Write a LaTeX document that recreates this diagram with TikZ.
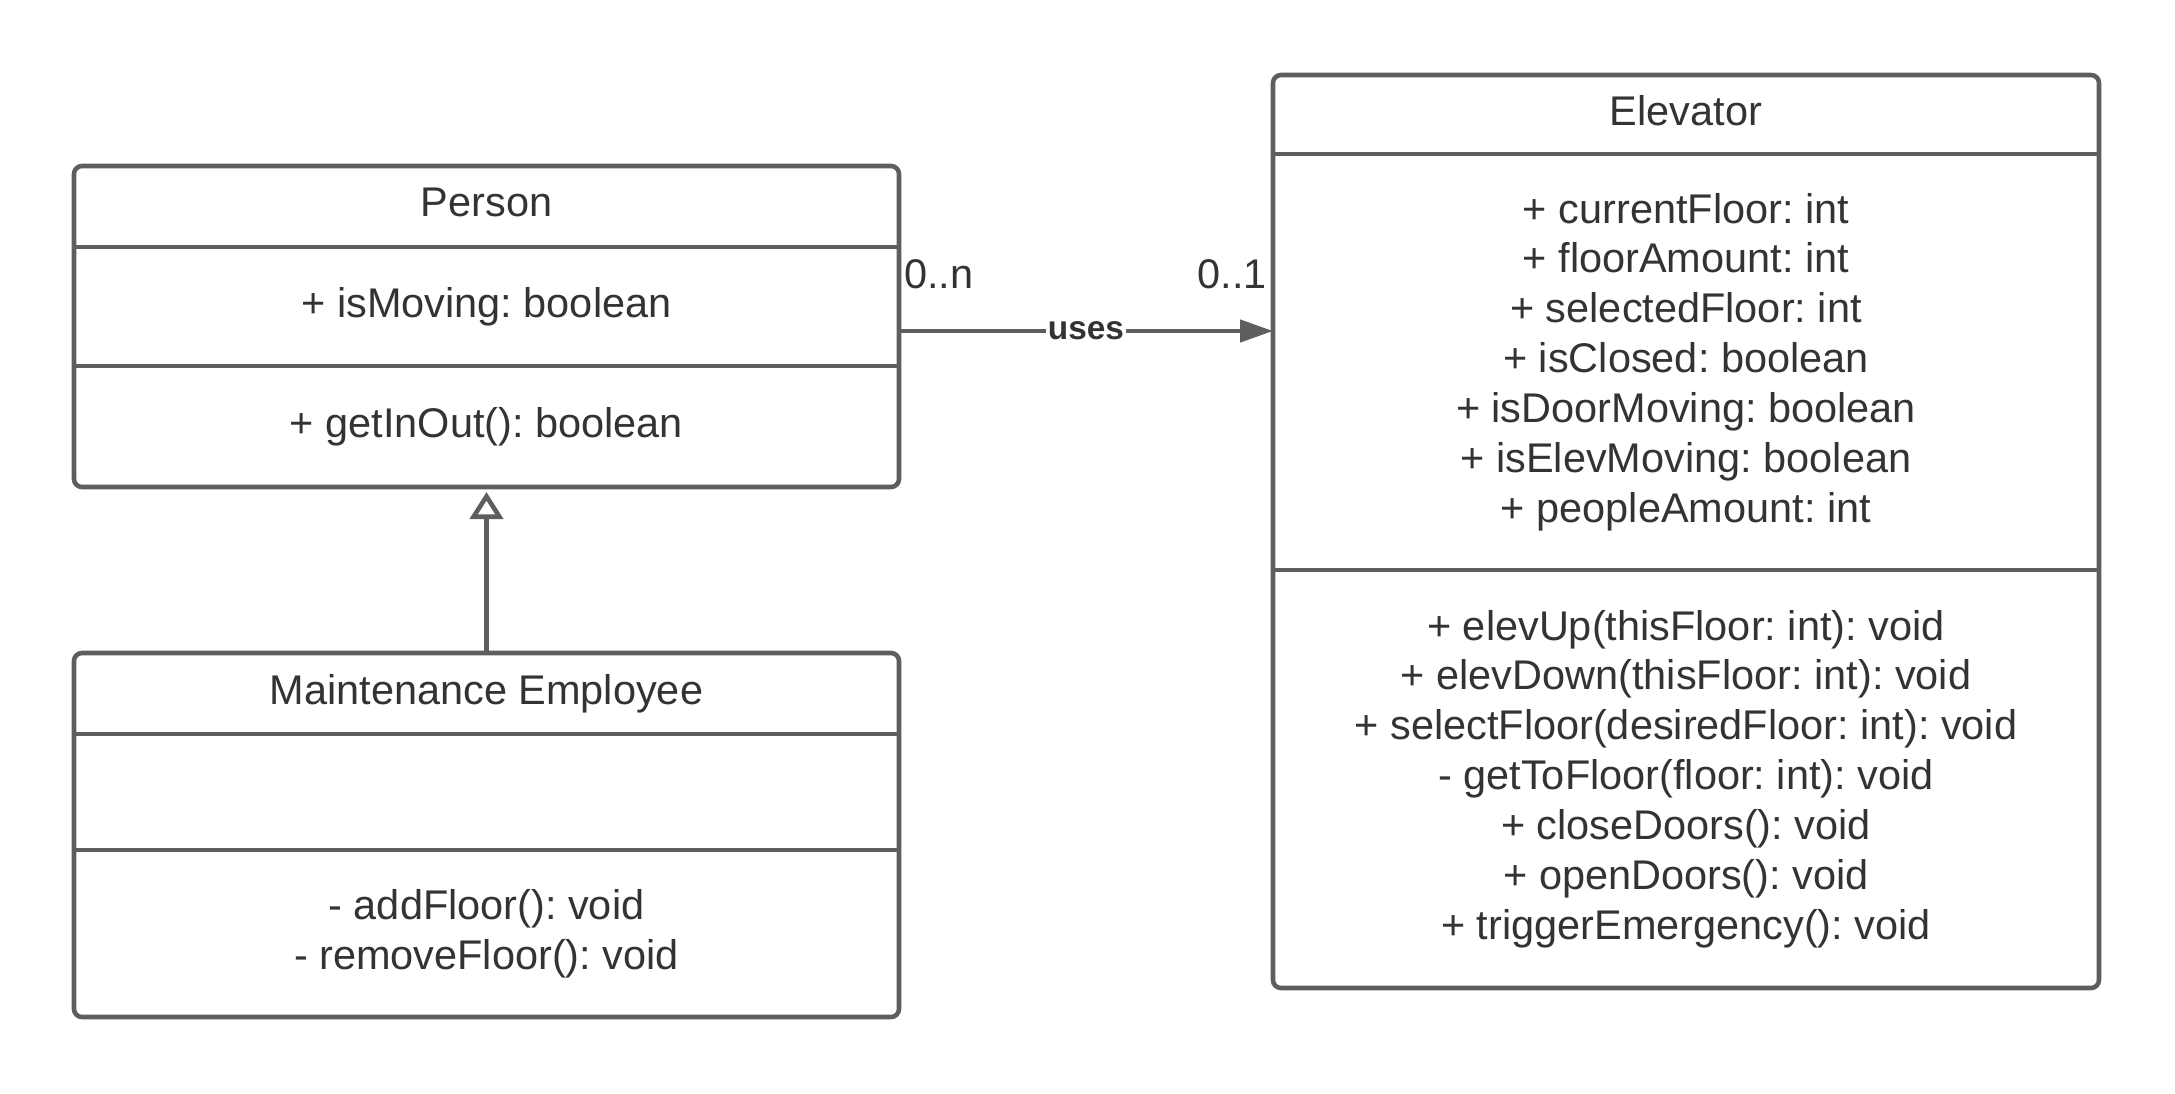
\documentclass[tikz,border=0pt]{standalone}
\usepackage{fontspec}
\setmainfont{Liberation Sans}
\frenchspacing
\usetikzlibrary{positioning,arrows.meta}

\definecolor{linegray}{HTML}{5E5E5E}
\definecolor{textgray}{HTML}{333333}

\tikzset{
	box/.style={minimum width=8.25cm, inner sep=0pt, outer sep=0pt, align=center, text=textgray,
		font=\fontsize{11.8}{14.2}\selectfont},
	head/.style={box, minimum height=0.81cm, text depth=0.09cm},
	frame/.style={draw=linegray, line width=1.3pt, rounded corners=0.08cm},
	sep/.style={draw=linegray, line width=1.3pt},
	mult/.style={inner sep=0pt, text=textgray, font=\fontsize{11.8}{14}\selectfont},
}

\begin{document}
\begin{tikzpicture}

\useasboundingbox (0,0) rectangle (21.75,-10.93);

% Person
\node[head, anchor=north west] (phead) at (0.74,-1.66) {Person};
\node[box, minimum height=1.19cm, below=0pt of phead] (pattr) {+ isMoving: boolean};
\node[box, minimum height=1.21cm, below=0pt of pattr] (pmeth) {+ getInOut(): boolean};
\draw[frame] (phead.north west) rectangle (pmeth.south east);
\draw[sep] (pattr.north west) -- (pattr.north east);
\draw[sep] (pmeth.north west) -- (pmeth.north east);

% Maintenance Employee
\node[head, anchor=north west] (mhead) at (0.74,-6.53) {Maintenance Employee};
\node[box, minimum height=1.16cm, below=0pt of mhead] (mattr) {};
\node[box, minimum height=1.67cm, below=0pt of mattr] (mmeth) {- addFloor(): void\\- removeFloor(): void};
\draw[frame] (mhead.north west) rectangle (mmeth.south east);
\draw[sep] (mattr.north west) -- (mattr.north east);
\draw[sep] (mmeth.north west) -- (mmeth.north east);

% Elevator
\node[head, minimum width=8.26cm, minimum height=0.79cm, anchor=north west] (ehead) at (12.73,-0.75) {Elevator};
\node[box, minimum width=8.26cm, minimum height=4.16cm, below=0pt of ehead] (eattr) {%
	+ currentFloor: int\\
	+ floorAmount: int\\
	+ selectedFloor: int\\
	+ isClosed: boolean\\
	+ isDoorMoving: boolean\\
	+ isElevMoving: boolean\\
	+ peopleAmount: int};
\node[box, minimum width=8.26cm, minimum height=4.18cm, below=0pt of eattr] (emeth) {%
	+ elevUp(thisFloor: int): void\\
	+ elevDown(thisFloor: int): void\\
	+ selectFloor(desiredFloor: int): void\\
	- getToFloor(floor: int): void\\
	+ closeDoors(): void\\
	+ openDoors(): void\\
	+ triggerEmergency(): void};
\draw[frame] (ehead.north west) rectangle (emeth.south east);
\draw[sep] (eattr.north west) -- (eattr.north east);
\draw[sep] (emeth.north west) -- (emeth.north east);

% uses
\coordinate (usestart) at ([yshift=-0.245cm]pattr.east);
\draw[sep, -{Triangle[length=0.33cm, width=0.22cm]}] (usestart) -- (usestart -| ehead.west)
	node[mult, pos=0, anchor=base west, xshift=0.03cm, yshift=0.43cm] {0..n}
	node[mult, pos=1, anchor=base east, xshift=-0.04cm, yshift=0.43cm] {0..1}
	node[midway, fill=white, inner sep=0.5pt, text=textgray,
		font=\fontsize{9.5}{11}\selectfont\bfseries] {uses};

% inheritance
\draw[sep, -{Triangle[open, length=0.27cm, width=0.33cm]}] (mhead.north) -- ([yshift=-0.05cm]pmeth.south);

\end{tikzpicture}
\end{document}
